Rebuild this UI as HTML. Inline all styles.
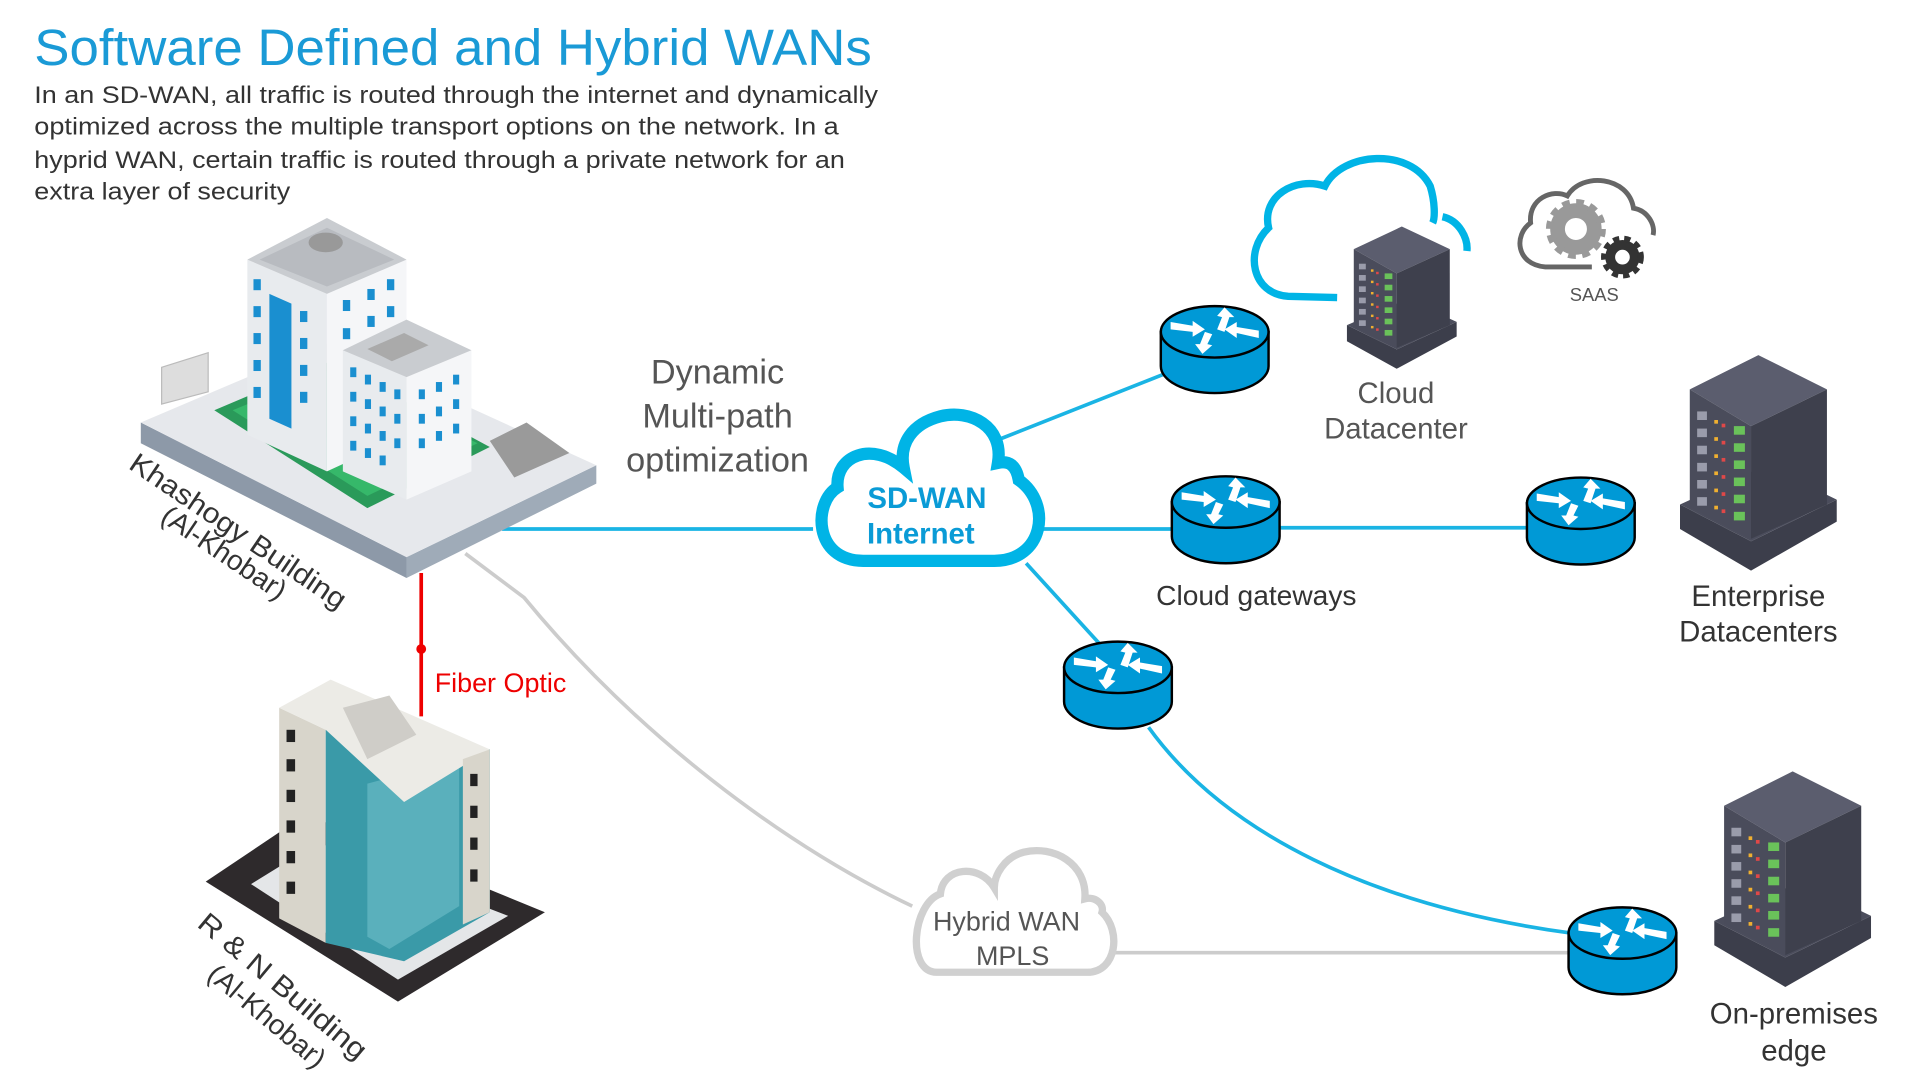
<!DOCTYPE html>
<html><head><meta charset="utf-8"><style>
html,body{margin:0;padding:0;background:#fff;width:1920px;height:1080px;overflow:hidden}
svg{display:block}
text{font-family:"Liberation Sans",Arial,sans-serif}
</style></head><body>
<svg width="1920" height="1080" viewBox="0 0 1568 882" preserveAspectRatio="none" xmlns="http://www.w3.org/2000/svg">
<defs>
<g id="router">
  <path d="M0,22 L0,50 A44,22 0 0 0 88,50 L88,22 Z" fill="#0099d6" stroke="#000" stroke-width="2"/>
  <ellipse cx="44" cy="22" rx="44" ry="21" fill="#0099d6" stroke="#000" stroke-width="2"/>
  <g fill="#fff">
    <polygon points="8,14 26,17 26,13 36,20 26,26 26,22 8,20"/>
    <polygon points="52,2 60,10 56,10 52,22 46,20 50,10 46,9"/>
    <polygon points="80,27 62,23 62,27 52,20 62,14 62,18 80,21"/>
    <polygon points="34,40 28,32 32,32 36,22 42,24 38,32 42,33"/>
  </g>
</g>
<g id="server">
  <polygon points="0,122 58,152 128,118 128,136 58,176 0,142" fill="#3c3e4b"/>
  <polygon points="0,122 58,152 128,118 70,90" fill="#4b4d5c"/>
  <polygon points="8,28 64,0 120,28 58,58" fill="#5b5d6e"/>
  <polygon points="8,28 58,58 58,150 8,124" fill="#4a4c5b"/>
  <polygon points="58,58 120,28 120,122 58,150" fill="#3e404d"/>
  <g fill="#6ac25a">
    <rect x="44" y="58" width="9" height="7"/><rect x="44" y="72" width="9" height="7"/><rect x="44" y="86" width="9" height="7"/><rect x="44" y="100" width="9" height="7"/><rect x="44" y="114" width="9" height="7"/><rect x="44" y="128" width="9" height="7"/>
  </g>
  <g fill="#e04848"><rect x="34" y="56" width="3" height="3"/><rect x="34" y="70" width="3" height="3"/><rect x="34" y="84" width="3" height="3"/><rect x="34" y="98" width="3" height="3"/><rect x="34" y="112" width="3" height="3"/><rect x="34" y="126" width="3" height="3"/></g>
  <g fill="#f0b030"><rect x="28" y="53" width="3" height="3"/><rect x="28" y="67" width="3" height="3"/><rect x="28" y="81" width="3" height="3"/><rect x="28" y="95" width="3" height="3"/><rect x="28" y="109" width="3" height="3"/><rect x="28" y="123" width="3" height="3"/></g>
  <g fill="#9a9cab"><rect x="14" y="46" width="8" height="7"/><rect x="14" y="60" width="8" height="7"/><rect x="14" y="74" width="8" height="7"/><rect x="14" y="88" width="8" height="7"/><rect x="14" y="102" width="8" height="7"/><rect x="14" y="116" width="8" height="7"/></g>
</g>
</defs>

<!-- title -->
<text x="28" y="53" font-size="42" fill="#1a9ad6" textLength="684" lengthAdjust="spacingAndGlyphs">Software Defined and Hybrid WANs</text>
<g font-size="20" fill="#333">
<text x="28" y="84" textLength="689" lengthAdjust="spacingAndGlyphs">In an SD-WAN, all traffic is routed through the internet and dynamically</text>
<text x="28" y="110" textLength="657" lengthAdjust="spacingAndGlyphs">optimized across the multiple transport options on the network. In a</text>
<text x="28" y="137" textLength="662" lengthAdjust="spacingAndGlyphs">hyprid WAN, certain traffic is routed through a private network for an</text>
<text x="28" y="163" textLength="209" lengthAdjust="spacingAndGlyphs">extra layer of security</text>
</g>

<!-- connectors -->
<line x1="410" y1="432" x2="664" y2="432" stroke="#1ab4e4" stroke-width="3"/>
<path d="M380,452 L428,488 C520,600 640,690 745,740" fill="none" stroke="#ccc" stroke-width="3"/>
<line x1="344" y1="468" x2="344" y2="585" stroke="#e00" stroke-width="3"/>
<circle cx="344" cy="530" r="4" fill="#e00"/>
<line x1="818" y1="358" x2="952" y2="305" stroke="#1ab4e4" stroke-width="3"/>
<line x1="852" y1="432" x2="958" y2="432" stroke="#1ab4e4" stroke-width="3"/>
<line x1="1045" y1="431" x2="1248" y2="431" stroke="#1ab4e4" stroke-width="3"/>
<line x1="838" y1="460" x2="900" y2="528" stroke="#1ab4e4" stroke-width="3"/>
<path d="M938,594 C1000,680 1120,740 1283,762" fill="none" stroke="#1ab4e4" stroke-width="3"/>
<line x1="910" y1="778" x2="1283" y2="778" stroke="#ccc" stroke-width="3"/>

<!-- Khashogy building -->
<polygon points="115,345 115,362 332,472 332,455" fill="#8d99a8"/>
<polygon points="332,455 332,472 487,395 487,380" fill="#9fabb8"/>
<polygon points="115,345 268,280 487,380 332,455" fill="#e6e8ec"/>
<polygon points="175,335 270,295 400,365 300,415" fill="#2a9a5a"/>
<polygon points="190,335 270,302 390,362 300,405" fill="#36b86a"/>
<polygon points="400,360 430,345 465,370 420,390" fill="#9a9a9a"/>
<polygon points="132,300 170,288 170,320 132,330" fill="#ddd" stroke="#bbb"/>
<!-- tall tower -->
<polygon points="202,212 267,240 267,385 202,355" fill="#e8ebee"/>
<polygon points="267,240 332,212 332,355 267,385" fill="#f5f6f8"/>
<polygon points="202,212 267,178 332,212 267,240" fill="#c9ccd0"/>
<polygon points="212,212 267,186 322,212 267,234" fill="#b8bbc0"/>
<ellipse cx="266" cy="198" rx="14" ry="8" fill="#999"/>
<polygon points="220,240 238,248 238,350 220,342" fill="#1a8fd0"/>
<g fill="#1a8fd0">
<rect x="207" y="228" width="6" height="9"/><rect x="207" y="250" width="6" height="9"/><rect x="207" y="272" width="6" height="9"/><rect x="207" y="294" width="6" height="9"/><rect x="207" y="316" width="6" height="9"/>
<rect x="245" y="254" width="6" height="9"/><rect x="245" y="276" width="6" height="9"/><rect x="245" y="298" width="6" height="9"/><rect x="245" y="320" width="6" height="9"/>
<rect x="280" y="245" width="6" height="9"/><rect x="300" y="236" width="6" height="9"/><rect x="316" y="228" width="6" height="9"/>
<rect x="280" y="268" width="6" height="9"/><rect x="300" y="258" width="6" height="9"/><rect x="316" y="250" width="6" height="9"/>
</g>
<!-- small tower -->
<polygon points="280,286 332,308 332,408 280,385" fill="#e8ebee"/>
<polygon points="332,308 385,286 385,385 332,408" fill="#f5f6f8"/>
<polygon points="280,286 332,261 385,286 332,308" fill="#c9ccd0"/>
<polygon points="300,285 330,272 350,282 320,295" fill="#aaa"/>
<g fill="#1a8fd0">
<rect x="286" y="300" width="5" height="8"/><rect x="298" y="306" width="5" height="8"/><rect x="310" y="312" width="5" height="8"/><rect x="322" y="318" width="5" height="8"/>
<rect x="286" y="320" width="5" height="8"/><rect x="298" y="326" width="5" height="8"/><rect x="310" y="332" width="5" height="8"/><rect x="322" y="338" width="5" height="8"/>
<rect x="286" y="340" width="5" height="8"/><rect x="298" y="346" width="5" height="8"/><rect x="310" y="352" width="5" height="8"/><rect x="322" y="358" width="5" height="8"/>
<rect x="286" y="360" width="5" height="8"/><rect x="298" y="366" width="5" height="8"/><rect x="310" y="372" width="5" height="8"/>
<rect x="342" y="318" width="5" height="8"/><rect x="356" y="312" width="5" height="8"/><rect x="370" y="306" width="5" height="8"/>
<rect x="342" y="338" width="5" height="8"/><rect x="356" y="332" width="5" height="8"/><rect x="370" y="326" width="5" height="8"/>
<rect x="342" y="358" width="5" height="8"/><rect x="356" y="352" width="5" height="8"/><rect x="370" y="346" width="5" height="8"/>
</g>
<text transform="translate(104,382) rotate(34)" font-size="23" fill="#333" textLength="208" lengthAdjust="spacingAndGlyphs">Khashogy Building</text>
<text transform="translate(130,425) rotate(34)" font-size="23" fill="#333">(Al-Khobar)</text>

<!-- R&N building -->
<polygon points="168,720 250,665 445,745 325,818" fill="#2e2a2c"/>
<polygon points="205,722 260,688 415,748 325,800" fill="#e4e6e8"/>
<polygon points="228,578 266,596 266,770 228,750" fill="#d8d5cb"/>
<polygon points="266,596 400,612 400,745 330,785 266,770" fill="#3a9aa8"/>
<polygon points="300,640 375,620 375,740 318,775 300,765" fill="#5ab0bc"/>
<polygon points="228,578 270,555 400,612 330,655 266,596" fill="#ecebe6"/>
<polygon points="280,578 318,568 340,600 300,620" fill="#cfcdc8"/>
<polygon points="378,620 400,612 400,745 378,755" fill="#d8d5cb"/>
<g fill="#222"><rect x="234" y="596" width="7" height="10"/><rect x="234" y="620" width="7" height="10"/><rect x="234" y="645" width="7" height="10"/><rect x="234" y="670" width="7" height="10"/><rect x="234" y="695" width="7" height="10"/><rect x="234" y="720" width="7" height="10"/>
<rect x="384" y="632" width="6" height="10"/><rect x="384" y="658" width="6" height="10"/><rect x="384" y="684" width="6" height="10"/><rect x="384" y="710" width="6" height="10"/></g>
<text transform="translate(160,756) rotate(40)" font-size="23" fill="#333" textLength="172" lengthAdjust="spacingAndGlyphs">R &amp; N Building</text>
<text transform="translate(168,798) rotate(40)" font-size="23" fill="#333">(Al-Khobar)</text>
<text x="355" y="565" font-size="22" fill="#e00">Fiber Optic</text>

<!-- dynamic label -->
<g font-size="28" fill="#555" text-anchor="middle">
<text x="586" y="313">Dynamic</text><text x="586" y="349">Multi-path</text><text x="586" y="385">optimization</text>
</g>

<!-- SD-WAN cloud -->
<path d="M705,458 L812,458 C852,458 860,412 832,392 C830,380 824,376 815,378 C820,348 792,334 768,340 C745,346 734,362 738,382 C712,360 682,372 684,398 C664,410 664,458 705,458 Z" fill="#fff" stroke="#00b4e6" stroke-width="10"/>
<g font-size="24" font-weight="bold" fill="#0a9bd6" text-anchor="middle"><text x="757" y="415">SD-WAN</text><text x="752" y="444">Internet</text></g>

<!-- cloud datacenter -->
<path d="M1092,243 L1052,242 C1022,240 1016,205 1036,186 C1030,160 1058,144 1082,152 C1096,124 1152,120 1168,152 C1172,165 1172,178 1170,182 M1178,177 C1192,180 1199,195 1198,205" fill="none" stroke="#00b4e6" stroke-width="6"/>
<use href="#server" transform="translate(1100,185) scale(0.7,0.66)"/>
<g font-size="24" fill="#555" text-anchor="middle"><text x="1140" y="329">Cloud</text><text x="1140" y="358">Datacenter</text></g>

<!-- SAAS -->
<path d="M1300,218 L1262,218 C1238,216 1236,192 1250,182 C1248,162 1268,154 1280,160 C1292,140 1330,144 1334,170 C1346,172 1352,184 1350,192" fill="none" stroke="#666" stroke-width="4"/>
<circle cx="1287" cy="187" r="15" fill="none" stroke="#999" stroke-width="12"/>
<circle cx="1287" cy="187" r="21" fill="none" stroke="#999" stroke-width="7" stroke-dasharray="6 5"/>
<circle cx="1325" cy="210" r="10" fill="none" stroke="#333" stroke-width="8"/>
<circle cx="1325" cy="210" r="15" fill="none" stroke="#333" stroke-width="5" stroke-dasharray="5 4"/>
<text x="1302" y="246" font-size="15" fill="#555" text-anchor="middle">SAAS</text>

<!-- enterprise -->
<use href="#server" transform="translate(1372,290)"/>
<g font-size="24" fill="#333" text-anchor="middle"><text x="1436" y="495">Enterprise</text><text x="1436" y="524">Datacenters</text></g>
<!-- on-prem -->
<use href="#server" transform="translate(1400,630)"/>
<g font-size="24" fill="#333" text-anchor="middle"><text x="1465" y="836">On-premises</text><text x="1465" y="866">edge</text></g>

<text x="1026" y="494" font-size="23" fill="#333" text-anchor="middle">Cloud gateways</text>

<!-- Hybrid cloud -->
<path d="M765,794 L888,794 C912,794 916,760 900,745 C902,738 894,732 886,734 C888,705 860,690 836,696 C820,700 812,715 812,725 C800,705 770,708 768,730 C745,738 740,794 765,794 Z" fill="#fff" stroke="#d0d0d0" stroke-width="6"/>
<g font-size="22" fill="#555" text-anchor="middle"><text x="822" y="760">Hybrid WAN</text><text x="827" y="788">MPLS</text></g>

<!-- routers -->
<use href="#router" transform="translate(948,249)"/>
<use href="#router" transform="translate(957,388)"/>
<use href="#router" transform="translate(1247,389)"/>
<use href="#router" transform="translate(869,523)"/>
<use href="#router" transform="translate(1281,740)"/>
</svg>
</body></html>
